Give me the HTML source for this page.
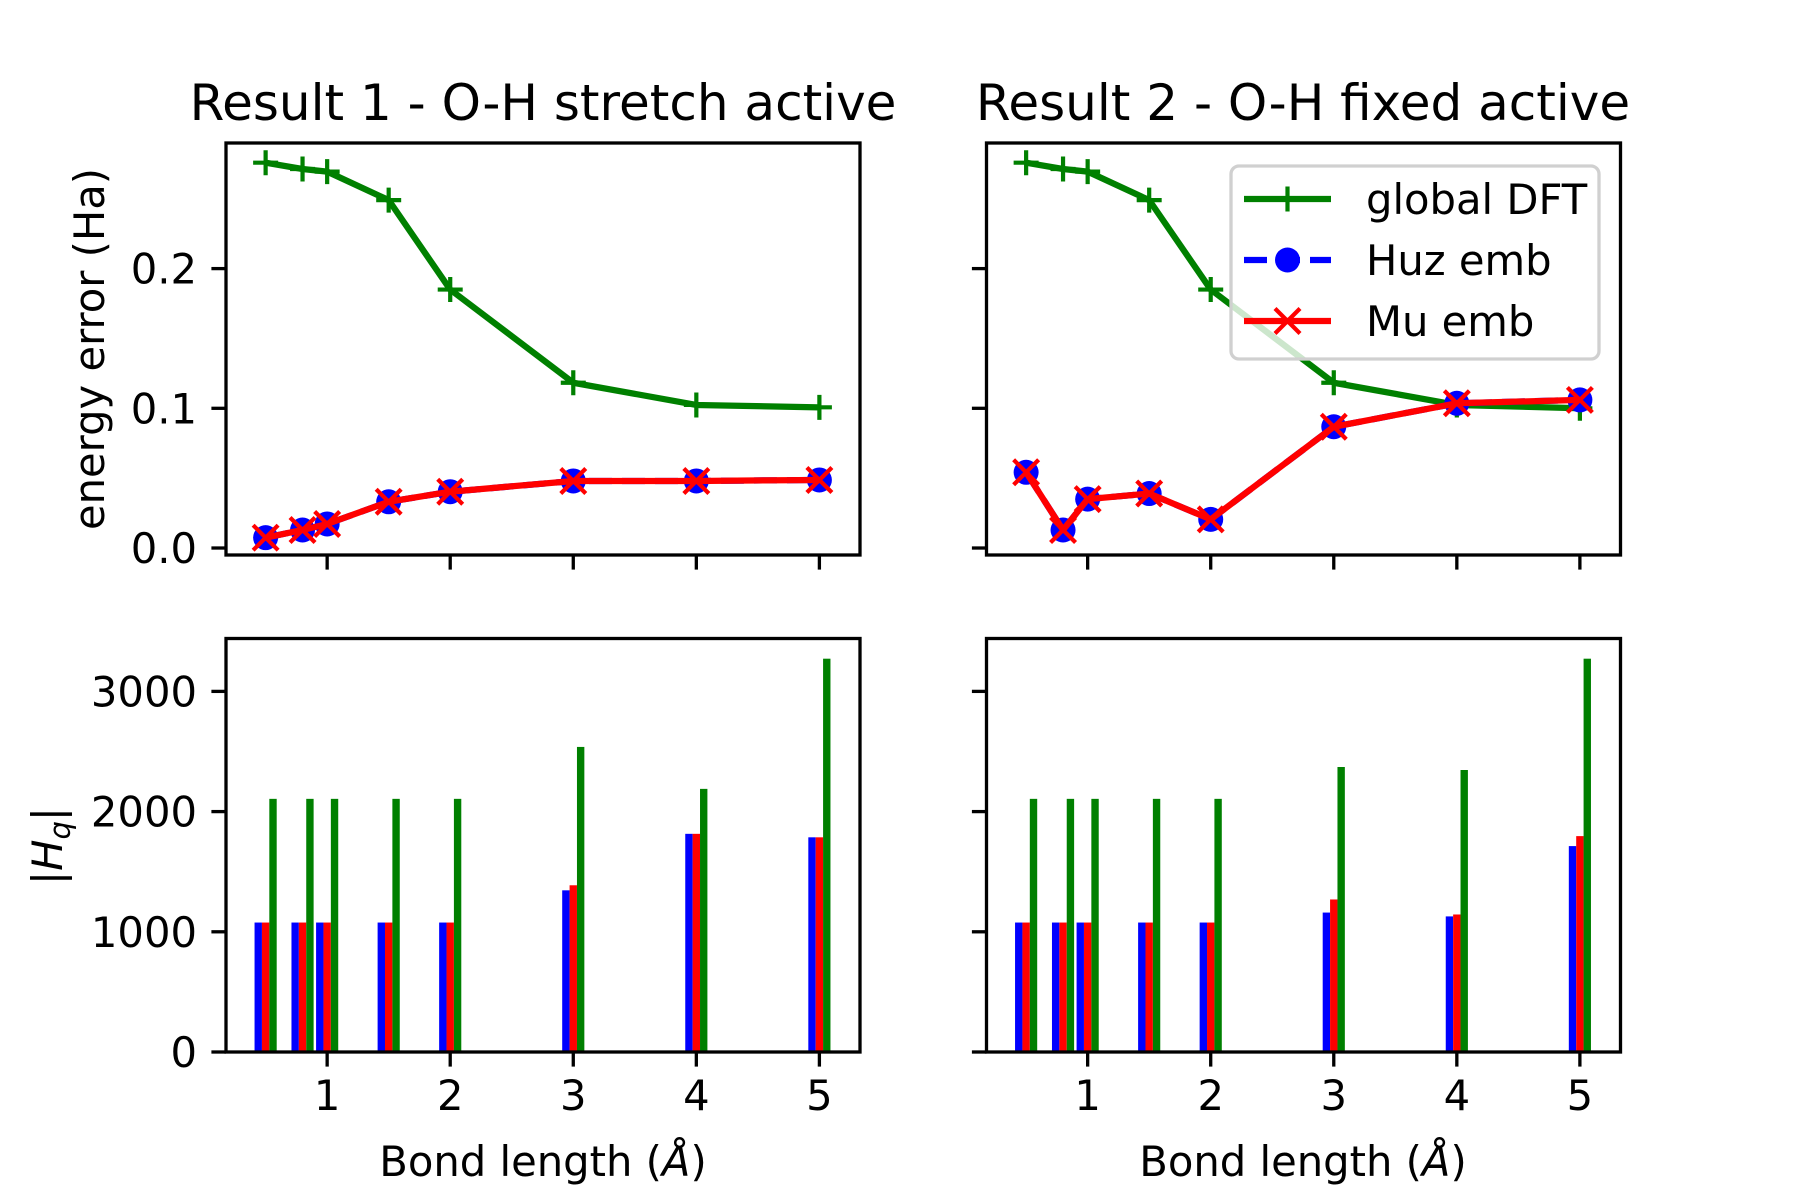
<!DOCTYPE html>
<html><head><meta charset="utf-8"><style>
html,body{margin:0;padding:0;background:#fff;}
svg{display:block;font-family:"DejaVu Sans","Liberation Sans",sans-serif;}
</style></head><body>
<svg id="fig" width="1800" height="1200" viewBox="0 0 1800 1200" xmlns="http://www.w3.org/2000/svg"></svg>
<script>
const bondLengths = [0.5, 0.8, 1.0, 1.5, 2, 3, 4, 5];
const r1Global = [0.2758, 0.2713, 0.2694, 0.249, 0.185, 0.1183, 0.1024, 0.1007];
const r1Huz = [0.0074, 0.0129, 0.0172, 0.0331, 0.0403, 0.048, 0.048, 0.0487];
const r1Mu = [0.0074, 0.0129, 0.0172, 0.0331, 0.0403, 0.048, 0.048, 0.0487];
const r2Global = [0.2758, 0.2713, 0.2694, 0.249, 0.185, 0.1183, 0.1024, 0.1000];
const r2Huz = [0.0542, 0.0129, 0.035, 0.039, 0.0205, 0.0868, 0.1036, 0.106];
const r2Mu = [0.0542, 0.0129, 0.035, 0.039, 0.0205, 0.0868, 0.1036, 0.106];
const r1HqHuz = [1077, 1077, 1077, 1077, 1077, 1345, 1815, 1786];
const r1HqMu = [1077, 1077, 1077, 1077, 1077, 1387, 1815, 1786];
const r1HqGlobal = [2106, 2106, 2106, 2106, 2106, 2538, 2189, 3272];
const r2HqHuz = [1077, 1077, 1077, 1077, 1077, 1160, 1128, 1713];
const r2HqMu = [1077, 1077, 1077, 1077, 1077, 1269, 1144, 1796];
const r2HqGlobal = [2106, 2106, 2106, 2106, 2106, 2371, 2346, 3272];
const xTicks = [1, 2, 3, 4, 5];
const yTicksTop = [0.0, 0.1, 0.2];
const yTickLabelsTop = ["0.0", "0.1", "0.2"];
const yTicksBot = [0, 1000, 2000, 3000];
const yTickLabelsBot = ["0", "1000", "2000", "3000"];

const NS = "http://www.w3.org/2000/svg";
const svg = document.getElementById("fig");
function mk(tag, attrs, parent, text) {
  const e = document.createElementNS(NS, tag);
  for (const k in attrs) e.setAttribute(k, attrs[k]);
  if (text !== undefined) e.textContent = text;
  (parent || svg).appendChild(e);
  return e;
}
const XMIN = 0.178, XMAX = 5.33;
const PW = 634;
function panel(ox, top, bottom, ymin, ymax) {
  const L = ox, R = ox + PW;
  return {L, R, top, bottom,
    x: v => L + (v - XMIN) / (XMAX - XMIN) * (R - L),
    y: v => bottom - (v - ymin) / (ymax - ymin) * (bottom - top)};
}
function frame(p, name, yt, ytl, showYLabels, showXLabels) {
  const g = mk("g", {}, svg);
  
  
  mk("rect", {x: p.L, y: p.top, width: p.R - p.L, height: p.bottom - p.top, fill: "none", stroke: "#000", "stroke-width": 3.3}, g);
  yt.forEach((v, i) => {
    const yy = p.y(v);
    mk("line", {x1: p.L - 14.6, x2: p.L, y1: yy, y2: yy, stroke: "#000", "stroke-width": 3.3}, g);
    if (showYLabels) {
      const t = mk("text", {x: p.L - 29, y: yy + 15, "text-anchor": "end", "font-size": 41.7}, g, ytl[i]);
      
      
    }
  });
  xTicks.forEach(v => {
    const xx = p.x(v);
    mk("line", {x1: xx, x2: xx, y1: p.bottom, y2: p.bottom + 14.6, stroke: "#000", "stroke-width": 3.3}, g);
    if (showXLabels) {
      const t = mk("text", {x: xx, y: 1110, "text-anchor": "middle", "font-size": 41.7}, g, String(v));
      
      
    }
  });
}
function lineSeries(p, ys, color, dash, marker, name) {
  const g = mk("g", {}, svg);
  
  
  const pts = bondLengths.map((b, i) => p.x(b) + "," + p.y(ys[i])).join(" ");
  const a = {points: pts, fill: "none", stroke: color, "stroke-width": 6.25, "stroke-linejoin": "round"};
  if (dash) a["stroke-dasharray"] = "23,10";
  mk("polyline", a, g);
  bondLengths.forEach((b, i) => drawMarker(g, p.x(b), p.y(ys[i]), marker, color));
}
function drawMarker(g, cx, cy, marker, color) {
  const s = 12.5;
  if (marker === "plus") {
    mk("path", {d: `M${cx - s},${cy}H${cx + s}M${cx},${cy - s}V${cy + s}`, stroke: color, "stroke-width": 4.2}, g);
  } else if (marker === "circle") {
    mk("circle", {cx, cy, r: 12.5, fill: color}, g);
  } else {
    mk("path", {d: `M${cx - s},${cy - s}L${cx + s},${cy + s}M${cx - s},${cy + s}L${cx + s},${cy - s}`, stroke: color, "stroke-width": 4.2}, g);
  }
}
function bars(p, vals, offset, color, name) {
  const w = 0.06;
  vals.forEach((v, i) => {
    const x0 = p.x(bondLengths[i] + offset - w / 2), x1 = p.x(bondLengths[i] + offset + w / 2);
    const r = mk("rect", {x: x0, y: p.y(v), width: x1 - x0, height: p.y(0) - p.y(v), fill: color});
    
    
  });
}
const pTL = panel(226, 143, 555, -0.005, 0.2899);
const pTR = panel(986.5, 143, 555, -0.005, 0.2899);
const pBL = panel(226, 638.5, 1052, 0, 3440);
const pBR = panel(986.5, 638.5, 1052, 0, 3440);

[[pBL, r1HqHuz, r1HqMu, r1HqGlobal, "result1"], [pBR, r2HqHuz, r2HqMu, r2HqGlobal, "result2"]].forEach(([p, h, m, gl, n]) => {
  bars(p, h, -0.06, "#0000ff", n + "-huz");
  bars(p, m, 0, "#ff0000", n + "-mu");
  bars(p, gl, 0.06, "#008000", n + "-global");
});
lineSeries(pTL, r1Global, "#008000", false, "plus", "result1-global-dft-line");
lineSeries(pTL, r1Huz, "#0000ff", true, "circle", "result1-huz-emb-line");
lineSeries(pTL, r1Mu, "#ff0000", false, "x", "result1-mu-emb-line");
lineSeries(pTR, r2Global, "#008000", false, "plus", "result2-global-dft-line");
lineSeries(pTR, r2Huz, "#0000ff", true, "circle", "result2-huz-emb-line");
lineSeries(pTR, r2Mu, "#ff0000", false, "x", "result2-mu-emb-line");

frame(pTL, "result1-energy", yTicksTop, yTickLabelsTop, true, false);
frame(pTR, "result2-energy", yTicksTop, yTickLabelsTop, false, false);
frame(pBL, "result1-hq", yTicksBot, yTickLabelsBot, true, true);
frame(pBR, "result2-hq", yTicksBot, yTickLabelsBot, false, true);

const lg = mk("g", {});


mk("rect", {x: 1231, y: 166, width: 368, height: 193, rx: 8, fill: "rgba(255,255,255,0.8)", stroke: "#d0d0d0", "stroke-width": 3.3}, lg);
const entries = [["global DFT", "#008000", false, "plus"], ["Huz emb", "#0000ff", true, "circle"], ["Mu emb", "#ff0000", false, "x"]];
entries.forEach((e, i) => {
  const yy = 199 + i * 61;
  const a = {x1: 1244, x2: 1331, y1: yy, y2: yy, stroke: e[1], "stroke-width": 6.25};
  if (e[2]) a["stroke-dasharray"] = "23,10";
  mk("line", a, lg);
  drawMarker(lg, 1287.5, yy, e[3], e[1]);
  const t = mk("text", {x: 1366, y: yy + 15, "font-size": 41.7}, lg, e[0]);
  
  
});

const t1 = mk("text", {x: 543, y: 120, "text-anchor": "middle", "font-size": 50}, svg, "Result 1 - O-H stretch active");


const t2 = mk("text", {x: 1303, y: 120, "text-anchor": "middle", "font-size": 50}, svg, "Result 2 - O-H fixed active");


const yl1 = mk("text", {x: 0, y: 0, "text-anchor": "middle", "font-size": 41.7, transform: "translate(104,349) rotate(-90)"}, svg, "energy error (Ha)");


const yl2 = mk("text", {x: 0, y: 0, "text-anchor": "middle", "font-size": 41.7, transform: "translate(62,846) rotate(-90)"}, svg);


yl2.innerHTML = '|<tspan font-style="italic">H</tspan><tspan font-style="italic" font-size="29" dy="8">q</tspan><tspan dy="-8">|</tspan>';
[543, 1303].forEach((cx, i) => {
  const xl = mk("text", {x: cx, y: 1176, "text-anchor": "middle", "font-size": 41.7}, svg);
  
  
  xl.innerHTML = 'Bond length (<tspan font-style="italic">Å</tspan>)';
});
</script>
</body></html>
